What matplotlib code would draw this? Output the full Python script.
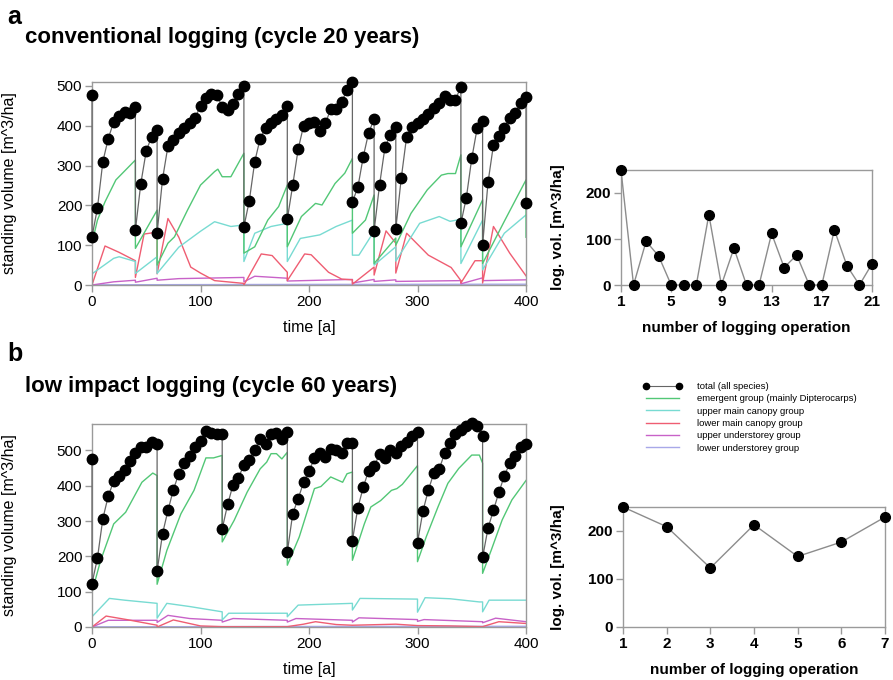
import matplotlib
matplotlib.use("Agg")
import matplotlib.pyplot as plt
from matplotlib.lines import Line2D

plt.rcParams['font.family'] = ['Liberation Sans', 'DejaVu Sans']

# ---- panel a: conventional logging, total volume (dots every 5 years, before/after logging)
a_tot_t = [0, 0, 5, 10, 15, 20, 25, 30, 35, 40, 40, 45, 50, 55, 60, 60,
           65, 70, 75, 80, 85, 90, 95, 100, 105, 110, 115, 120, 125, 130, 135, 140, 140,
           145, 150, 155, 160, 165, 170, 175, 180, 180,
           185, 190, 195, 200, 205, 210, 215, 220, 225, 230, 235, 240, 240,
           245, 250, 255, 260, 260, 265, 270, 275, 280, 280,
           285, 290, 295, 300, 305, 310, 315, 320, 325, 330, 335, 340, 340,
           345, 350, 355, 360, 360, 365, 370, 375, 380, 385, 390, 395, 400, 400]
a_tot_v = [477, 121, 193, 310, 368, 410, 425, 435, 433, 448, 138, 255, 337, 373, 390, 130,
           266, 349, 364, 381, 394, 408, 420, 450, 471, 481, 477, 448, 440, 454, 481, 500, 146,
           212, 310, 368, 395, 408, 416, 427, 450, 165,
           251, 341, 400, 406, 410, 388, 406, 441, 441, 459, 490, 511, 209,
           245, 322, 383, 416, 136, 251, 346, 377, 396, 141,
           268, 373, 396, 408, 418, 430, 445, 456, 475, 466, 466, 498, 155,
           219, 318, 394, 413, 100, 258, 352, 374, 394, 420, 431, 456, 473, 207]

a_em_t = [0, 0, 5, 12, 22, 31, 40, 40, 60, 60, 70, 76, 88, 100, 113, 116, 120, 128, 140, 140,
          150, 162, 172, 180, 180, 193, 206, 212, 224, 233, 240, 240, 252, 260, 260, 280, 280,
          294, 309, 322, 328, 335, 340, 340, 360, 360, 380, 400, 400]
a_em_v = [400, 105, 163, 209, 264, 289, 314, 92, 188, 50, 105, 121, 188, 251, 285, 291, 272, 272, 331, 80,
          96, 163, 197, 251, 96, 172, 205, 201, 255, 281, 318, 130, 163, 226, 54, 118, 100,
          180, 239, 276, 280, 280, 327, 96, 214, 54, 160, 264, 120]

a_up_t = [0, 20, 25, 40, 40, 60, 60, 80, 100, 113, 128, 140, 140, 150, 165, 180, 180, 192, 210, 225,
          240, 240, 246, 260, 260, 280, 280, 302, 320, 330, 340, 340, 360, 360, 380, 400]
a_up_v = [28, 67, 71, 59, 29, 71, 29, 95, 135, 159, 147, 151, 59, 130, 147, 155, 59, 117, 126, 147,
          163, 75, 75, 135, 50, 96, 60, 155, 172, 160, 165, 54, 163, 38, 130, 176]

a_lo_t = [0, 12, 25, 40, 40, 48, 58, 60, 60, 70, 80, 91, 100, 113, 140, 140, 156, 166, 180, 180,
          196, 202, 218, 230, 240, 240, 260, 260, 271, 280, 280, 290, 310, 331, 340, 340,
          353, 360, 360, 370, 385, 400]
a_lo_v = [0, 98, 82, 61, 19, 128, 132, 120, 28, 167, 120, 45, 30, 11, 4, 0, 78, 74, 32, 11,
          78, 76, 32, 15, 13, 2, 45, 25, 136, 105, 30, 130, 75, 44, 11, 5,
          61, 61, 5, 147, 80, 23]

a_uu_t = [0, 20, 40, 40, 60, 60, 80, 140, 140, 150, 180, 180, 240, 240, 260, 260, 280, 280,
          340, 340, 360, 360, 400]
a_uu_v = [0, 8, 12, 7, 17, 12, 16, 19, 8, 22, 17, 10, 14, 5, 14, 9, 13, 9,
          11, 3, 18, 11, 13]

a_lu_t = [0, 200, 400]
a_lu_v = [0.5, 1.5, 2]

# ---- panel a: logging volume per operation
a_ops = list(range(1, 22))
a_logvol = [250, 0, 95, 63, 0, 0, 0, 153, 0, 80, 0, 0, 112, 38, 65, 0, 0, 120, 42, 0, 46]

# ---- panel b: low impact logging
b_tot_t = [0, 0, 5, 10, 15, 20, 25, 30, 35, 40, 45, 50, 55, 60, 60,
           65, 70, 75, 80, 85, 90, 95, 100, 105, 110, 115, 120, 120,
           125, 130, 135, 140, 145, 150, 155, 160, 165, 170, 175, 180, 180,
           185, 190, 195, 200, 205, 210, 215, 220, 225, 230, 235, 240, 240,
           245, 250, 255, 260, 265, 270, 275, 280, 285, 290, 295, 300, 300,
           305, 310, 315, 320, 325, 330, 335, 340, 345, 350, 355, 360, 360,
           365, 370, 375, 380, 385, 390, 395, 400]
b_tot_v = [476, 123, 195, 307, 371, 413, 429, 445, 469, 492, 509, 511, 525, 517, 158,
           264, 330, 389, 434, 464, 483, 511, 528, 554, 549, 547, 547, 278,
           347, 403, 423, 459, 472, 502, 533, 519, 547, 550, 533, 552, 212,
           321, 363, 410, 441, 478, 492, 481, 505, 502, 492, 521, 521, 245,
           337, 396, 443, 455, 489, 479, 502, 492, 514, 524, 540, 552, 239,
           328, 388, 435, 447, 492, 522, 546, 558, 570, 577, 570, 541, 197,
           280, 331, 381, 428, 464, 485, 511, 517]

b_em_t = [0, 0, 8, 20, 31, 46, 56, 60, 60, 69, 82, 94, 105, 112, 120, 120,
          131, 143, 155, 161, 165, 170, 175, 180, 180, 191, 205, 211, 220, 231, 235, 240, 240,
          251, 257, 266, 276, 281, 286, 300, 300, 308, 319, 328, 338, 350, 357, 360, 360,
          368, 378, 387, 400]
b_em_v = [396, 99, 189, 292, 325, 410, 436, 429, 121, 217, 321, 387, 479, 479, 486, 241,
          302, 382, 448, 467, 491, 491, 476, 495, 175, 255, 392, 398, 425, 410, 434, 439, 189,
          292, 340, 358, 387, 392, 404, 457, 185, 255, 341, 407, 449, 487, 487, 464, 152,
          218, 303, 360, 415]

b_up_t = [0, 16, 30, 60, 60, 69, 90, 120, 120, 126, 180, 180, 190, 240, 240, 247,
          300, 300, 307, 330, 357, 360, 360, 366, 400]
b_up_v = [29, 81, 76, 67, 25, 67, 58, 43, 20, 39, 39, 29, 62, 67, 48, 81,
          79, 42, 83, 80, 71, 71, 43, 76, 76]

b_lo_t = [0, 13, 32, 60, 60, 75, 100, 120, 180, 195, 206, 225, 240, 280, 300, 330, 360, 375, 400]
b_lo_v = [0, 31, 21, 5, 0, 20, 3, 1, 1, 8, 15, 7, 5, 8, 4, 3, 1, 15, 10]

b_uu_t = [0, 15, 60, 60, 70, 90, 120, 120, 130, 180, 180, 188, 240, 240, 246,
          300, 300, 306, 360, 360, 372, 400]
b_uu_v = [0, 19, 19, 13, 33, 24, 19, 14, 24, 19, 14, 24, 19, 14, 26,
          21, 16, 21, 15, 12, 25, 15]

b_lu_t = [0, 200, 400]
b_lu_v = [0.5, 1.5, 2]

b_ops = list(range(1, 8))
b_logvol = [250, 209, 123, 213, 147, 177, 229]

legend_labels = ["total (all species)", "emergent group (mainly Dipterocarps)",
                 "upper main canopy group", "lower main canopy group",
                 "upper understorey group", "lower understorey group"]

c_em = '#52c776'
c_up = '#78dbd2'
c_lo = '#ef5d72'
c_uu = '#c862c8'
c_lu = '#a8a8e8'
c_tot = '#666666'
c_frame = '#9a9a9a'


def style_axes(ax, bold=False):
    for s in ax.spines.values():
        s.set_color(c_frame)
        s.set_linewidth(1.0)
    ax.tick_params(direction='out', length=5, width=1, color=c_frame,
                   labelsize=11, pad=2)
    if bold:
        for lab in ax.get_xticklabels() + ax.get_yticklabels():
            lab.set_fontweight('bold')


def draw_main(ax, groups, tot_t, tot_v, ymax):
    for t, v, c in groups:
        ax.plot(t, v, color=c, lw=1.0)
    ax.plot(tot_t, tot_v, color=c_tot, lw=0.9, marker='o', ms=7.5,
            mfc='black', mec='black', clip_on=False, zorder=3)
    ax.set_xlim(0, 400)
    ax.set_ylim(0, ymax)
    ax.set_xticks([0, 100, 200, 300, 400])
    ax.set_yticks([0, 100, 200, 300, 400, 500])
    style_axes(ax)
    ax.set_xlabel("time [a]", fontsize=11.5)
    ax.set_ylabel("standing volume [m^3/ha]", fontsize=11.5)
    ax.xaxis.set_label_coords(0.5, -0.17)
    ax.yaxis.set_label_coords(-0.173, 0.5)


def draw_ops(ax, ops, vols, ticks):
    ax.plot(ops, vols, color='#8c8c8c', lw=1.0, marker='o', ms=7,
            mfc='black', mec='black', clip_on=False, zorder=3)
    ax.set_xlim(ops[0], ops[-1])
    ax.set_ylim(0, 250)
    ax.set_xticks(ticks)
    ax.set_yticks([0, 100, 200])
    style_axes(ax, bold=True)
    ax.set_xlabel("number of logging operation", fontsize=11, fontweight='bold')
    ax.set_ylabel("log. vol. [m^3/ha]", fontsize=11, fontweight='bold')


fig = plt.figure(figsize=(8.93, 6.80), dpi=100)
W, H = 893.0, 680.0


def box(l, r, t, b):
    return [l / W, 1 - b / H, (r - l) / W, (b - t) / H]


ax1 = fig.add_axes(box(92, 526, 82, 285))
draw_main(ax1, [(a_lu_t, a_lu_v, c_lu), (a_uu_t, a_uu_v, c_uu), (a_lo_t, a_lo_v, c_lo),
                (a_up_t, a_up_v, c_up), (a_em_t, a_em_v, c_em)], a_tot_t, a_tot_v, 510)

ax2 = fig.add_axes(box(621, 872, 170, 285))
draw_ops(ax2, a_ops, a_logvol, [1, 5, 9, 13, 17, 21])
ax2.xaxis.set_label_coords(0.5, -0.31)
ax2.yaxis.set_label_coords(-0.223, 0.5)

ax3 = fig.add_axes(box(92, 526, 424, 627))
draw_main(ax3, [(b_lu_t, b_lu_v, c_lu), (b_uu_t, b_uu_v, c_uu), (b_lo_t, b_lo_v, c_lo),
                (b_up_t, b_up_v, c_up), (b_em_t, b_em_v, c_em)], b_tot_t, b_tot_v, 575)

ax4 = fig.add_axes(box(623, 885, 507, 627))
draw_ops(ax4, b_ops, b_logvol, list(range(1, 8)))
ax4.xaxis.set_label_coords(0.5, -0.30)
ax4.yaxis.set_label_coords(-0.221, 0.5)

fig.text(7 / W, 1 - 24 / H, "a", fontsize=18, fontweight='bold', va='baseline')
fig.text(25 / W, 1 - 43 / H, "conventional logging (cycle 20 years)", fontsize=16,
         fontweight='bold', va='baseline')
fig.text(7 / W, 1 - 361 / H, "b", fontsize=18, fontweight='bold', va='baseline')
fig.text(25 / W, 1 - 392 / H, "low impact logging (cycle 60 years)", fontsize=16,
         fontweight='bold', va='baseline')

handles = [Line2D([], [], color=c_tot, lw=0.8, marker='o', ms=4.5, mfc='black', mec='black'),
           Line2D([], [], color=c_em, lw=1.0),
           Line2D([], [], color=c_up, lw=1.0),
           Line2D([], [], color=c_lo, lw=1.0),
           Line2D([], [], color=c_uu, lw=1.0),
           Line2D([], [], color=c_lu, lw=1.0)]
fig.legend(handles, legend_labels, loc='upper left', bbox_to_anchor=(643 / W, 1 - 382 / H),
           frameon=False, fontsize=6.8, numpoints=2, handlelength=4.1, handletextpad=1.6,
           labelspacing=0.35, borderpad=0, borderaxespad=0)

fig.savefig("out.png", dpi=100)
